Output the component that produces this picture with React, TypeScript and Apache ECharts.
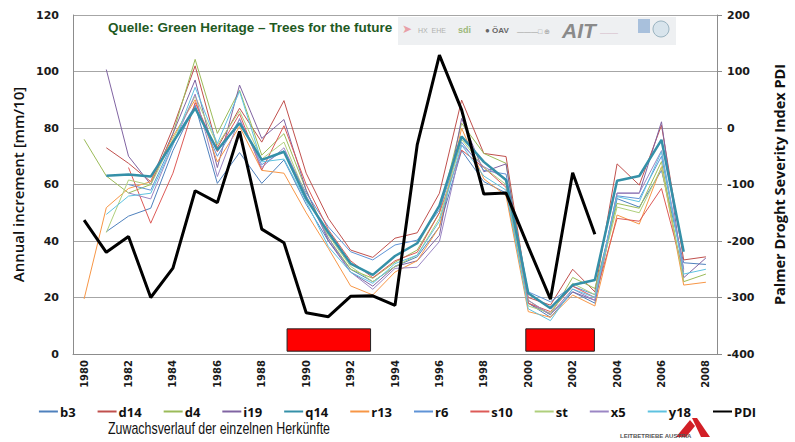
import React, { useEffect, useRef } from "react";
import * as echarts from "echarts";

const years = ["1980","1981","1982","1983","1984","1985","1986","1987","1988","1989","1990","1991","1992","1993","1994","1995","1996","1997","1998","1999","2000","2001","2002","2003","2004","2005","2006","2007","2008"];

const b3 = [null, 43.3, 48.8, 51.6, 72, 88, 60.4, 71.3, 60.4, 68.7, 53, 40, 30, 25.6, 31, 34.4, 45, 72, 61, 57, 18, 13, 22, 18, 55, 52, 65, 32.3, 31.7];
const d14 = [null, 73, 67.5, 61, 80, 102, 73, 87, 75, 89.7, 64, 48, 36.8, 34.2, 41, 42.9, 56.9, 89.9, 71, 69.9, 20, 17.3, 30, 22, 67.3, 59.8, 81, 33.3, 34.4];
const d4 = [76, 63, 57, 60, 78, 104.3, 78.1, 93.4, 70.4, 78, 58, 41, 30, 26.8, 32.5, 36.8, 50, 81.7, 71, 67.5, 19, 13.8, 27.1, 23.2, 53.3, 51.6, 68.1, 25.6, 28.3];
const i19 = [null, 100.7, 70, 60, 78, 97, 66, 95.2, 76.3, 83, 58, 40, 29, 24, 31, 33, 42, 83.4, 64.5, 67.3, 18, 14, 22, 19, 56.9, 56.9, 82.2, 27, 34];
const q14 = [null, 63.1, 63.5, 62.8, 75, 87, 72.2, 81.7, 68.7, 71.6, 55, 43, 32, 28, 34.7, 39.2, 52.5, 77, 68, 61.6, 21.5, 16.2, 24.4, 26.2, 61.3, 63, 75.8, 36.2, null];
const r13 = [19.5, 51.8, 58.6, 61, 77, 90, 68, 80.5, 65, 64, 50, 37.4, 24.1, 20.9, 29, 33, 45, 79.9, 62, 56, 15, 13, 20.9, 17, 49.2, 46, 66.3, 24.4, 25.4];
const r6 = [null, null, 60, 58, 75, 88, 70, 83, 67, 72, 57, 45, 36.2, 33.3, 38.6, 40.3, 51, 75, 65, 63.7, 22, 18.5, 24, 21, 56, 55, 70, 30, null];
const s10 = [null, null, 66, 46.3, 64, 89, 71.6, 85, 65.1, 80.8, 60, 44, 33, 27, 33, 36, 50, 72.2, 66, 59, 18, 15, 24, 20, 48, 47, 58.6, 29, null];
const st = [null, 43, 61.6, 59.8, 76, 91.3, 74, 86, 69, 75, 56, 42, 31, 25.6, 31, 35, 48, 76, 66, 60, 17, 14.5, 25, 21, 52, 50, 66, 26, null];
const x5 = [null, null, 57, 54.9, 74, 92, 62.8, 83.4, 66, 73, 56, 41, 29, 22.9, 30.3, 30.7, 39.8, 74, 66.3, 62, 19, 14, 23, 19, 57, 57, 72, 30, null];
const y18 = [null, 49.4, 55.9, 56.9, 74, 94.4, 74.5, 93, 68, 69, 54, 38, 29, 25, 32, 35, 47, 74, 63, 58, 16, 11.8, 23, 20, 55.7, 53.9, 71.6, 28.3, 30];
const pdi = [-163, -220, -192, -300, -248, -111, -132, -6, -179, -203, -327, -334, -298, -297, -314, -30, 129, 32, -117, -115, -210, -303, -79, -188, null, null, null, null, null];

const droughtPeriods = [[1989.14, 1992.9], [1999.89, 2002.98]];
const droughtBand = [1, 8.9];

const seriesDefs: [string, (number | null)[], string, number][] = [
  ["b3", b3, "#4F81BD", 1],
  ["d14", d14, "#C0504D", 1],
  ["d4", d4, "#9BBB59", 1],
  ["i19", i19, "#8064A2", 1],
  ["q14", q14, "#3590A8", 2.5],
  ["r13", r13, "#F79646", 1],
  ["r6", r6, "#5F93D6", 1],
  ["s10", s10, "#DD5A57", 1],
  ["st", st, "#AFCF7C", 1],
  ["x5", x5, "#9B86C4", 1],
  ["y18", y18, "#5EC2E0", 1],
];

export default function App() {
  const ref = useRef<HTMLDivElement>(null);
  useEffect(() => {
    document.body.style.margin = "0";
    const chart = echarts.init(ref.current!, null, { renderer: "svg" });
    const lineSeries: any[] = seriesDefs.map(([name, data, color, w]) => ({
      name,
      type: "line",
      data,
      symbol: "none",
      connectNulls: false,
      lineStyle: { color, width: w },
      itemStyle: { color },
      z: name === "q14" ? 4 : 3,
    }));
    lineSeries.push({
      name: "PDI",
      type: "line",
      yAxisIndex: 1,
      data: pdi,
      symbol: "none",
      lineStyle: { color: "#000000", width: 3 },
      itemStyle: { color: "#000000" },
      z: 5,
    });
    lineSeries.push({
      name: "drought",
      type: "custom",
      xAxisIndex: 1,
      yAxisIndex: 0,
      encode: { x: [0, 1], y: [2, 3] },
      data: droughtPeriods.map(([a, b]) => [a, b, droughtBand[0], droughtBand[1]]),
      renderItem: (params: any, api: any) => {
        const p1 = api.coord([api.value(0), api.value(3)]);
        const p2 = api.coord([api.value(1), api.value(2)]);
        return {
          type: "rect",
          shape: { x: p1[0], y: p1[1], width: p2[0] - p1[0], height: p2[1] - p1[1] },
          style: { fill: "#FF0000", stroke: "#222222", lineWidth: 1 },
        };
      },
      z: 6,
    });

    const labelFont = { fontFamily: "DejaVu Sans", fontWeight: "bold" as const, fontSize: 11, color: "#1a1a1a" };

    chart.setOption({
      animation: false,
      backgroundColor: "#ffffff",
      grid: { left: 73, right: 72, top: 15, bottom: 88, containLabel: false },
      legend: {
        data: [...seriesDefs.map((d) => d[0]), "PDI"],
        top: 400,
        left: "center",
        icon: "rect",
        itemWidth: 19,
        itemHeight: 2,
        itemGap: 22,
        textStyle: { fontFamily: "Open Sans", fontWeight: "bold", fontSize: 13, color: "#111", padding: [0, 0, 0, -3] },
      },
      xAxis: [
        {
          type: "category",
          data: years,
          boundaryGap: true,
          axisLine: { lineStyle: { color: "#8C8C8C" } },
          axisTick: { show: false },
          axisLabel: { interval: 1, rotate: 90, margin: 6, ...labelFont, fontSize: 10 },
        },
        { type: "value", min: 1979.5, max: 2008.5, show: false },
      ],
      yAxis: [
        {
          type: "value",
          min: 0,
          max: 120,
          interval: 20,
          name: "Annual increment [mm/10]",
          nameLocation: "middle",
          nameGap: 48,
          nameTextStyle: { fontFamily: "Open Sans", fontWeight: 600, fontSize: 15, color: "#111" },
          axisLine: { show: true, lineStyle: { color: "#8C8C8C" } },
          axisTick: { show: false },
          axisLabel: { margin: 14, ...labelFont },
          splitLine: { lineStyle: { color: "#A6A6A6" } },
        },
        {
          type: "value",
          min: -400,
          max: 200,
          interval: 100,
          position: "right",
          name: "Palmer Droght Severity Index PDI",
          nameLocation: "middle",
          nameGap: 55,
          nameRotate: 90,
          nameTextStyle: { fontFamily: "Open Sans", fontWeight: "bold", fontSize: 14.5, color: "#111" },
          axisLine: { show: true, lineStyle: { color: "#8C8C8C" } },
          axisTick: { show: true, length: 5, lineStyle: { color: "#8C8C8C" } },
          axisLabel: { margin: 10, ...labelFont },
          splitLine: { show: false },
        },
      ],
      graphic: [
        {
          type: "text",
          left: 108,
          top: 20,
          style: { text: "Quelle: Green Heritage \u2013 Trees for the future", fontFamily: "Liberation Sans", fontWeight: "bold", fontSize: 13.5, fill: "#1F5A1F" },
        },
        { type: "rect", shape: { x: 398, y: 17, width: 278, height: 28 }, style: { fill: "#EEF0F2" }, z: 1 },
        { type: "text", x: 402, y: 23, style: { text: "\u27A4", fontSize: 12, fill: "#E8A0A8" }, z: 2 },
        { type: "text", x: 418, y: 27, style: { text: "HX  EHE", fontFamily: "Liberation Sans", fontSize: 7, fill: "#B0B0B0" }, z: 2 },
        { type: "text", x: 458, y: 25, style: { text: "sdi", fontFamily: "Liberation Sans", fontWeight: "bold", fontSize: 9, fill: "#9CB87A" }, z: 2 },
        { type: "text", x: 485, y: 26, style: { text: "\u25CF \u00D6AV", fontFamily: "Liberation Sans", fontWeight: "bold", fontSize: 8, fill: "#666" }, z: 2 },
        { type: "text", x: 517, y: 28, style: { text: "\u2014\u2014\u2014\u25A1 \u2295", fontFamily: "Liberation Sans", fontSize: 7, fill: "#999" }, z: 2 },
        { type: "text", x: 562, y: 20, style: { text: "AIT", fontFamily: "Liberation Sans", fontWeight: "bold", fontStyle: "italic", fontSize: 21, fill: "#8A8A8A" }, z: 2 },
        { type: "text", x: 600, y: 30, style: { text: "\u2015\u2015\u2015", fontFamily: "Liberation Sans", fontSize: 6, fill: "#C9A0B4" }, z: 2 },
        { type: "rect", shape: { x: 638, y: 19, width: 12, height: 14 }, style: { fill: "#A8C0DC" }, z: 2 },
        { type: "circle", shape: { cx: 661, cy: 29, r: 8 }, style: { fill: "#D8E4EC", stroke: "#9AB3C0" }, z: 2 },
        {
          type: "text",
          x: 108,
          y: 420,
          scaleX: 0.73,
          style: { text: "Zuwachsverlauf der einzelnen Herk\u00FCnfte", fontFamily: "Liberation Sans", fontSize: 17, fill: "#111" },
        },
        { type: "polygon", shape: { points: [[676, 437], [690, 420], [695, 426], [686, 437]] }, style: { fill: "#D21F26" } },
        { type: "polygon", shape: { points: [[692, 418], [697, 418], [710, 437], [701, 437]] }, style: { fill: "#D21F26" } },
        { type: "text", x: 620, y: 433, style: { text: "LEITBETRIEBE AUSTRIA", fontFamily: "Liberation Sans", fontWeight: "bold", fontSize: 6, fill: "#555" } },
      ],
      series: lineSeries,
    });
    return () => chart.dispose();
  }, []);
  return <div ref={ref} style={{ width: 795, height: 442 }} />;
}
